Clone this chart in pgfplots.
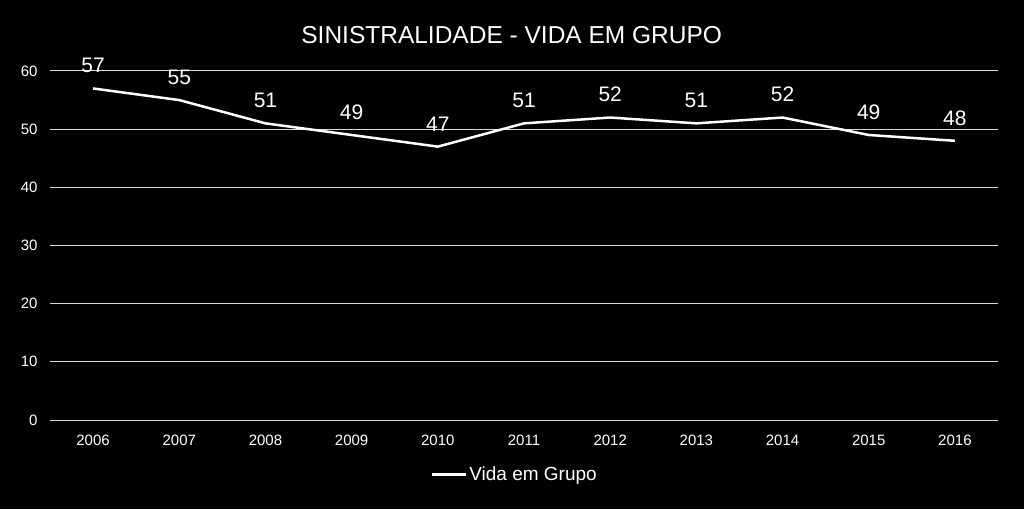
\documentclass[border=0pt]{standalone}
\usepackage{pgfplots}
\pgfplotsset{compat=1.18}
\usepackage{fontspec}
\setmainfont{Liberation Sans}
\definecolor{gridc}{RGB}{217,217,217}
\begin{document}
\begin{tikzpicture}[x=1pt,y=1pt]
\fill[black] (-50,-89) rectangle (974,420);
\useasboundingbox (-50,-89) rectangle (974,420);
\begin{axis}[
  at={(0,0)}, anchor=south west,
  scale only axis, width=948pt, height=349pt,
  xmin=-0.5, xmax=10.5, ymin=0, ymax=60,
  xtick={0,...,10},
  xticklabels={2006,2007,2008,2009,2010,2011,2012,2013,2014,2015,2016},
  ytick={0,10,...,60},
  axis line style={draw=none},
  major tick length=0pt,
  ymajorgrids, grid style={gridc, line width=1pt},
  tick label style={white, font=\fontsize{15}{16}\selectfont},
  /pgf/number format/assume math mode=true,
  yticklabel style={xshift=-9pt},
  xticklabel style={yshift=-11pt},
  title={SINISTRALIDADE - VIDA EM GRUPO},
  title style={white, font=\fontsize{24.5}{28}\selectfont, at={(0.487,1.087)}, anchor=center},
  legend style={draw=none, fill=none, text=white, font=\fontsize{19}{22}\selectfont,
    at={(0.49,-0.155)}, anchor=center},
  legend image code/.code={\draw[white, line width=3pt] (0pt,0pt) -- (34pt,0pt);},
  legend cell align=left,
  nodes near coords,
  every node near coord/.append style={white, font=\fontsize{21}{24}\selectfont, anchor=south, yshift=11pt},
]
\addplot[white, line width=2.5pt, mark=none] coordinates {
(0,57) (1,55) (2,51) (3,49) (4,47) (5,51) (6,52) (7,51) (8,52) (9,49) (10,48)
};
\addlegendentry{Vida em Grupo}
\end{axis}
\end{tikzpicture}
\end{document}
